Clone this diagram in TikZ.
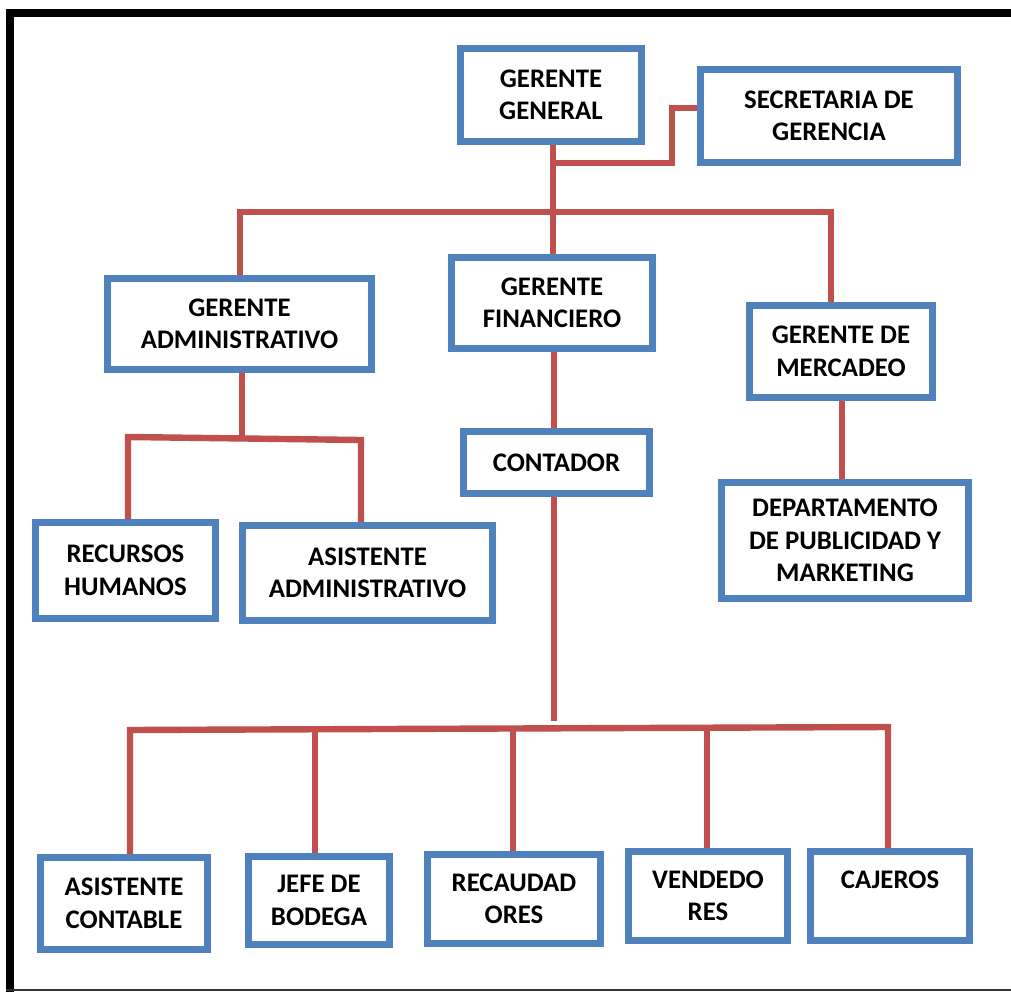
\documentclass[tikz,border=0pt]{standalone}
\usepackage{fontspec}
\setmainfont{Carlito}
\definecolor{boxblue}{RGB}{79,129,189}
\definecolor{linkred}{RGB}{192,80,77}
\begin{document}
\begin{tikzpicture}[x=0.75pt,y=-0.75pt,
  box/.style 2 args={draw=boxblue, line width=5pt, rectangle, align=center, inner sep=0pt,
     minimum width=#1*0.75pt, minimum height=#2*0.75pt,
     font=\bfseries\fontsize{20.1}{24.4}\selectfont},
  link/.style={draw=linkred, line width=4.8pt}]
\useasboundingbox (0,0) rectangle (1011,992);
% frame
\draw[line width=6pt] (10,992) -- (10,13) -- (1011,13);
\draw[line width=1.2pt, black!80] (6,990) -- (1011,990);
% boxes
\node[box={181.3}{93.3}] (gg) at (551,95) {GERENTE\\GENERAL};
\node[box={257.3}{93.3}] (sec) at (829,116) {SECRETARIA DE\\GERENCIA};
\node[box={264.3}{91.3}] (ga) at (239.5,324) {GERENTE\\ADMINISTRATIVO};
\node[box={201.3}{91.3}] (gf) at (552,303) {GERENTE\\FINANCIERO};
\node[box={183.3}{92.3}] (gm) at (841,351.5) {GERENTE DE\\MERCADEO};
\node[box={186.3}{62.3}] (cont) at (556.5,462.5) {CONTADOR};
\node[box={247.3}{116.3}] (dept) at (845,540.5) {DEPARTAMENTO\\DE PUBLICIDAD Y\\MARKETING};
\node[box={180.3}{96.3}] (rh) at (125.5,570.5) {RECURSOS\\HUMANOS};
\node[box={250.3}{95.3}] (aa) at (367.5,573) {ASISTENTE\\ADMINISTRATIVO};
\node[box={167.3}{92.3}] (ac) at (124,903.5) {ASISTENTE\\CONTABLE};
\node[box={141.3}{88.3}] (jefe) at (319,900.5) {JEFE DE\\BODEGA};
\node[box={173.3}{89.3}] (rec) at (514,899) {RECAUDAD\\ORES};
\node[box={159.3}{89.3}] (ven) at (708,896) {VENDEDO\\RES};
\node[box={159.3}{89.3}] (caj) at (890,896) {CAJEROS\\~};
% connector coordinates
\coordinate (j0) at (553,163);
\coordinate (j1) at (672,108);
\coordinate (t) at (553,212);
\coordinate (tl) at (240,212);
\coordinate (tr) at (831,212);
\coordinate (g1) at (242,438.5);
\coordinate (hl) at (128,437);
\coordinate (hr) at (361,440);
\coordinate (c) at (554,721);
\coordinate (m) at (842,0);
\coordinate (bl) at (130,730);
\coordinate (br) at (888,727);
\coordinate (d2) at (315,729.3);
\coordinate (d3) at (513,728.5);
\coordinate (d4) at (707,727.7);
% connectors
\draw[link] (j0) -| (j1) -- (j1 -| sec.west);
\draw[link] (gg.south -| t) -- (gf.north -| t);
\draw[link] (ga.north -| tl) -- (tl) -- (tr) -- (gm.north -| tr);
\draw[link] (ga.south -| g1) -- (g1);
\draw[link] (rh.north -| hl) -- (hl) -- (hr) -- (aa.north -| hr);
\draw[link] (gf.south -| c) -- (cont.north -| c);
\draw[link] (cont.south -| c) -- (c);
\draw[link] (gm.south -| m) -- (dept.north -| m);
\draw[link] (ac.north -| bl) -- (bl) -- (br) -- (caj.north -| br);
\draw[link] (d2) -- (d2 |- jefe.north);
\draw[link] (d3) -- (d3 |- rec.north);
\draw[link] (d4) -- (d4 |- ven.north);
\end{tikzpicture}
\end{document}
